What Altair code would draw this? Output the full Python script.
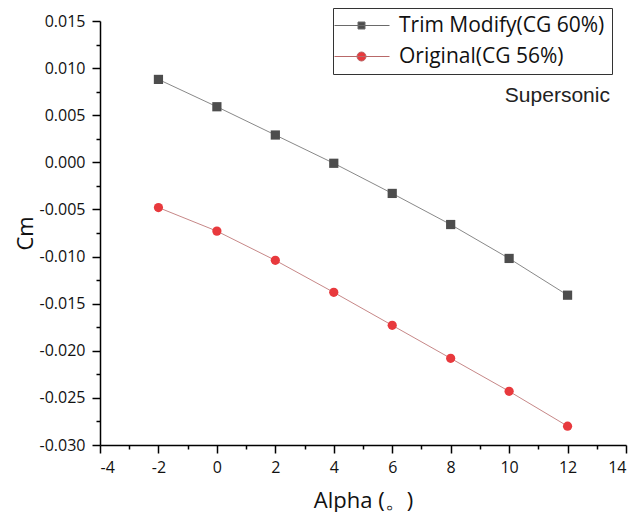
import altair as alt
import pandas as pd

# ---- data ----
alpha = [-2, 0, 2, 4, 6, 8, 10, 12]
cm_trim = [0.0088, 0.0059, 0.0029, -0.0001, -0.0033, -0.0066, -0.0102, -0.0141]
cm_orig = [-0.0048, -0.0073, -0.0104, -0.0138, -0.0173, -0.0208, -0.0243, -0.0280]
series_names = ["Trim Modify(CG 60%)", "Original(CG 56%)"]

x_major = [-4, -2, 0, 2, 4, 6, 8, 10, 12, 14]
x_minor = [-3, -1, 1, 3, 5, 7, 9, 11, 13]
y_major = [-0.030, -0.025, -0.020, -0.015, -0.010, -0.005, 0.000, 0.005, 0.010, 0.015]
y_minor = [-0.0275, -0.0225, -0.0175, -0.0125, -0.0075, -0.0025, 0.0025, 0.0075, 0.0125]

note_text = ["Supersonic"]
note_x = [13.45]
note_y = [0.0064]

rows = []
for a, v in zip(alpha, cm_trim):
    rows.append({"alpha": a, "cm": v, "series": series_names[0]})
for a, v in zip(alpha, cm_orig):
    rows.append({"alpha": a, "cm": v, "series": series_names[1]})
df = pd.DataFrame(rows)
note_df = pd.DataFrame({"x": note_x, "y": note_y, "t": note_text})

FONT = "Open Sans"
FILL = ["#4d4d4d", "#e8393d"]
LINE = ["#6a6a6a", "#b86868"]
x_scale = alt.Scale(domain=[-4, 14], nice=False, zero=False)
y_scale = alt.Scale(domain=[-0.030, 0.015], nice=False, zero=False)

MINUS = "\u2212"
x_axis = alt.Axis(
    orient="bottom", values=x_major, grid=False, title="Alpha (\u3002)",
    domainColor="black", domainWidth=1.5, tickColor="black", tickWidth=1.5, tickSize=8,
    labelFont=FONT, labelFontSize=16, labelColor="#111111", labelPadding=6,
    labelExpr=f"replace(format(datum.value, 'd'), '{MINUS}', '-')",
    titleFont=FONT, titleFontSize=22, titleFontWeight="normal", titleColor="#111111",
    titleBaseline="alphabetic", titleY=62,
)
y_axis = alt.Axis(
    orient="left", values=y_major, grid=False, title="Cm",
    domainColor="black", domainWidth=1.5, tickColor="black", tickWidth=1.5, tickSize=8,
    labelFont=FONT, labelFontSize=16, labelColor="#111111", labelPadding=7,
    labelExpr=f"replace(format(datum.value, '.3f'), '{MINUS}', '-')",
    titleFont=FONT, titleFontSize=22, titleFontWeight="normal", titleColor="#111111",
    titleBaseline="alphabetic", titleX=-68, titleAngle=-90,
)
x_minor_axis = alt.Axis(
    orient="bottom", values=x_minor, labels=False, domain=False, grid=False,
    tickSize=4, tickWidth=1.5, tickColor="black", title=None)
y_minor_axis = alt.Axis(
    orient="left", values=y_minor, labels=False, domain=False, grid=False,
    tickSize=4, tickWidth=1.5, tickColor="black", title=None)

# legend symbols: a short line with the marker in the middle (custom paths)
sq = "M-3.2,0H7.8M1.5,-0.7H2.9V0.7H1.5Z"
ci = "M-3.2,0H7.8M1.3,0A0.9,0.9 0 1,1 3.1,0A0.9,0.9 0 1,1 1.3,0Z"
legend = alt.Legend(
    title=None, orient="none", legendX=233, legendY=-13, direction="vertical",
    labelFont=FONT, labelFontSize=21, labelColor="#111111", labelLimit=400,
    symbolSize=100, symbolStrokeWidth=1, labelOffset=38, padding=7,
    strokeColor="#333333", fillColor="white", rowPadding=9,
)

base = alt.Chart(df)

def X(axis):
    return alt.X("alpha:Q", scale=x_scale, axis=axis)

def Y(axis):
    return alt.Y("cm:Q", scale=y_scale, axis=axis)

def only(i):
    return base.transform_filter(alt.datum.series == series_names[i])

line_trim = only(0).mark_line(strokeWidth=0.8, color=LINE[0]).encode(x=X(x_axis), y=Y(y_axis))
line_orig = only(1).mark_line(strokeWidth=0.8, color=LINE[1]).encode(x=X(None), y=Y(None))

squares = only(0).mark_point(filled=True, size=85, opacity=1, shape="square", color=FILL[0]).encode(
    x=X(None), y=Y(None))
circles = only(1).mark_point(filled=True, size=85, opacity=1, shape="circle", color=FILL[1]).encode(
    x=X(None), y=Y(None))

# zero-size layer whose only job is the legend
legend_layer = base.mark_point(filled=True, strokeWidth=1, opacity=1, size=0).encode(
    x=X(None), y=Y(None),
    color=alt.Color("series:N", scale=alt.Scale(domain=series_names, range=FILL), legend=legend),
    stroke=alt.Stroke("series:N", scale=alt.Scale(domain=series_names, range=LINE), legend=legend),
    shape=alt.Shape("series:N", scale=alt.Scale(domain=series_names, range=[sq, ci]), legend=legend),
)

note = alt.Chart(note_df).mark_text(
    align="right", baseline="alphabetic", font="Liberation Sans", fontSize=21, color="#222222"
).encode(
    x=alt.X("x:Q", scale=x_scale, axis=None),
    y=alt.Y("y:Q", scale=y_scale, axis=None),
    text="t:N",
)

minor = base.mark_point(opacity=0).encode(x=X(x_minor_axis), y=Y(y_minor_axis))

chart = alt.layer(line_trim, line_orig, squares, circles, legend_layer, note, minor).resolve_axis(
    x="independent", y="independent"
).properties(
    width=526, height=424,
    autosize=alt.AutoSizeParams(type="none"),
    padding={"left": 92, "top": 13, "right": 5, "bottom": 67},
).configure_view(stroke=None)

chart.save("out.html", embed_options={"renderer": "svg", "actions": False})
